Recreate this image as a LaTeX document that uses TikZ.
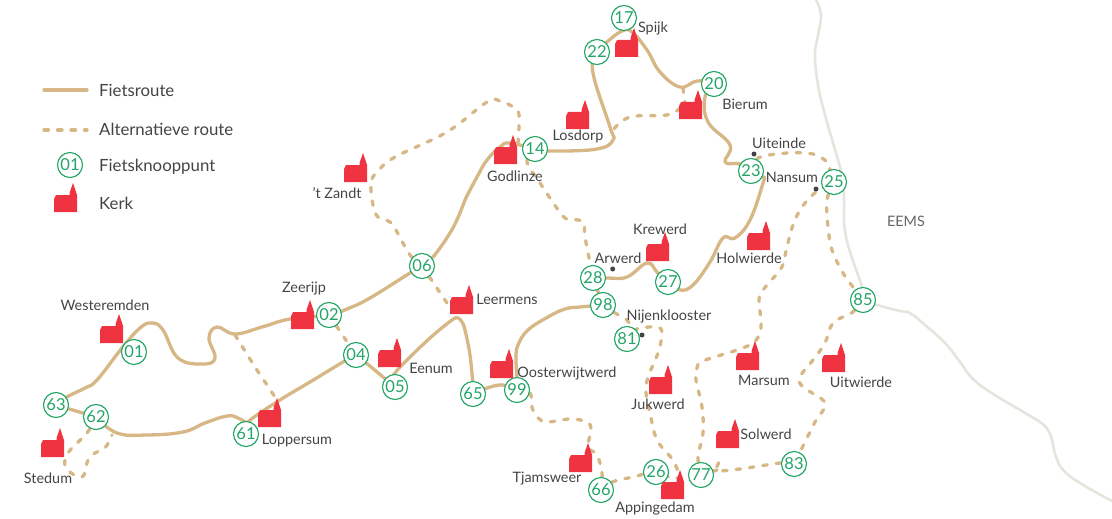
\documentclass[tikz,border=0pt]{standalone}
\usepackage{fontspec}
\setmainfont{Lato}
\pgfdeclarelayer{bg}
\pgfsetlayers{bg,main}
\definecolor{route}{HTML}{D6B785}
\definecolor{knoop}{HTML}{23A566}
\definecolor{kerkrood}{HTML}{EF3340}
\definecolor{tekst}{HTML}{444444}
\definecolor{rivier}{HTML}{E5E5DD}
\tikzset{
  x=1pt,y=-1pt,
  fiets/.style={draw=route,line width=3.3pt,line cap=round,line join=round},
  alt/.style={draw=route,line width=3.3pt,line cap=round,line join=round,dash pattern=on 4.5pt off 9pt},
  water/.style={draw=rivier,line width=2.6pt,line cap=round},
  kp/.style={circle,draw=knoop,fill=white,line width=1.15pt,minimum size=25pt,inner sep=0pt,text=knoop,font=\fontsize{16.5}{17}\selectfont},
  lbl/.style={text=tekst,font=\fontsize{14.4}{16}\selectfont,inner sep=0pt},
  leg/.style={text=tekst,font=\fontsize{16.8}{18}\selectfont,inner sep=0pt,anchor=west},
  punt/.style={circle,fill=tekst,minimum size=5pt,inner sep=0pt},
  kerk/.pic={\fill[kerkrood] (0,0) -- (0,-13) -- (2,-17) -- (15.5,-17) -- (15.5,-19) -- (19,-29) -- (23,-17) -- (23,0) -- cycle;},
}
\begin{document}
\begin{tikzpicture}
\useasboundingbox (0,0) rectangle (1112,519);
% knooppunten
\foreach \n/\x/\y in {01/134/352,63/56/405,62/96/417,61/246/434,02/329/315,04/356/355,05/395/387,06/422/266,14/535/149,65/473/394,99/517/390,98/603/305,28/593/278,27/668/282,81/627/339,66/601/490,26/656/472,77/701/475,83/794/464,85/863/300,25/834/182,23/751/171,20/714/84,17/624/18,22/597/52}
  \node[kp] (n\n) at (\x,\y) {\n};
\node[kp] (legk) at (70,165) {01};
% plaatsnamen-punten
\node[punt] (pa) at (612.7,269) {};
\node[punt] (pn) at (642,335) {};
\node[punt] (pu) at (754,154) {};
\node[punt] (pm) at (816,189) {};
% legenda
\coordinate (la) at (44,90); \coordinate (lb) at (87,90);
\coordinate (lc) at (44,130); \coordinate (ld) at (87,130);
\begin{pgfonlayer}{bg}
\draw[water] plot[smooth,tension=0.7] coordinates {(816,0) (821,15) (818,35) (815,55) (818,85) (825,115) (838,160) (843,180) (844,197) (846,237) (862,287) (n85) (877,305) (900,311) (910,313) (925,325) (945,343) (960,362) (972,378) (990,392) (1020,410) (1040,422) (1048,430) (1052,440) (1056,457) (1065,472) (1085,486) (1112,501)};
\draw[fiets] (la) -- (lb);
\draw[alt] (lc) -- (ld);
% vaste routes
\draw[fiets] plot[smooth,tension=0.7] coordinates {(n63) (66.7,397) (85,388) (97,380) (122,348) (140,328) (152,323) (163,330) (178,358) (203,364) (215,358) (209,338) (217,327) (235,334) (262,327) (290,319) (n02) (347,309) (370,298) (410,273) (n06) (433,257) (450,233) (460,213) (465,200) (477,177) (487,160) (500,147) (510,143) (n14) (553,151) (597,149) (613,140) (610,127) (593,73) (n22) (607,42) (622,31) (632,32) (647,50) (660,72) (680,87) (697,81) (n20) (705,97) (708,122) (730,145) (725,162) (740,164) (n23) (763,177) (763,183) (750,220) (735,238) (723,238) (710,262) (693,285) (680,290) (n27) (657,272) (647,263) (627,277) (607,278) (n28)};
\draw[fiets] (n28) -- (n98);
\draw[fiets] plot[smooth,tension=0.7] coordinates {(n98) (580,307) (565,309) (548,317) (528,330) (518,345) (516,358) (517,378) (n99) (503,385) (487,388) (n65)};
\draw[fiets] plot[smooth,tension=0.6] coordinates {(473,385) (470,355) (465,330) (462,322) (458,318) (452,320) (430,338) (402,365) (392,377)};
\draw[fiets] plot[smooth,tension=0.7] coordinates {(n05) (383,377) (365,362) (n04)};
\draw[fiets] plot[smooth,tension=0.6] coordinates {(n04) (343,362) (310,382) (280,400) (248,422) (n61)};
\draw[fiets] plot[smooth,tension=0.7] coordinates {(248,424) (238,418) (227,416) (205,423) (183,432) (147,435) (117,433) (n62)};
\draw[fiets] (n62) -- (n63);
% alternatieve routes
\draw[alt] plot[smooth,tension=0.6] coordinates {(n62) (87,433) (68,453) (66,468) (82,477) (88,460) (95,453) (105,448) (112,435)};
\draw[alt] plot[smooth,tension=0.3] coordinates {(235,335) (255,367) (277,400)};
\draw[alt] (n02) -- (n04);
\draw[alt] plot[smooth,tension=0.6] coordinates {(n06) (410,255) (397,232) (390,222) (378,217) (373,205) (371,183) (377,172) (395,157) (447,132) (487,102) (500,101) (517,110) (519,123) (518,143)};
\draw[alt] (n06) -- (447,303);
\draw[alt] plot[smooth,tension=0.6] coordinates {(n14) (527,162) (540,183) (562,215) (570,219) (583,222) (585,237) (590,263) (n28)};
\draw[alt] plot[smooth,tension=0.6] coordinates {(n98) (615,313) (627,320) (633,330) (640,328) (657,327) (662,333) (658,353) (648,377) (646,393) (650,413) (657,440) (673,460) (678,472)};
\draw[alt] plot[smooth,tension=0.6] coordinates {(n99) (530,393) (532,407) (537,417) (547,422) (570,419) (587,422) (591,430) (588,447) (597,455) (602,473) (n66)};
\draw[alt] plot[smooth,tension=0.6] coordinates {(n66) (612,482) (633,477) (n26) (673,478) (n77)};
\draw[alt] plot[smooth,tension=0.6] coordinates {(n77) (698,457) (703,433) (702,407) (696,380) (697,368) (703,361) (737,350) (753,343) (760,333) (761,320) (759,300) (763,290) (780,270) (784,260) (787,247) (793,225) (802,207) (816,192) (n25)};
\draw[alt] plot[smooth,tension=0.6] coordinates {(n25) (827,200) (828,227) (832,250) (843,273) (853,287) (n85)};
\draw[alt] plot[smooth,tension=0.6] coordinates {(n85) (853,312) (833,323) (825,343) (813,360) (800,377) (803,387) (825,403) (815,422) (800,452) (n83)};
\draw[alt] plot[smooth,tension=0.5] coordinates {(n83) (780,463) (740,469) (717,470) (723,455)};
\draw[alt] (n77) -- (717,470);
\draw[alt] plot[smooth,tension=0.6] coordinates {(n23) (758,158) (787,153) (813,154) (827,162) (830,170) (n25)};
\draw[alt] (683,88) -- (685,103);
\draw[alt] plot[smooth,tension=0.6] coordinates {(680,108) (667,115) (630,117) (613,130)};
\end{pgfonlayer}
% kerken
\foreach \x/\y in {54/212,344/182,100/343,41/457,291/329,258/427,494/164,566/129,646/261,450/314,378/367,490/378,569/472,661/499,649/394,615/57,679/119,747/250,736/370,822/372,716/448}
  \pic at (\x,\y) {kerk};
% legenda tekst
\node[leg] (t1) at (99,90.5) {Fietsroute};
\node[leg] (t2) at (99,129.5) {Alternatieve route};
\node[leg] (t3) at (99,166.5) {Fietsknooppunt};
\node[leg] (t4) at (99,203.5) {Kerk};
% namen
\node[lbl] (a1) at (337,193.5) {'t Zandt};
\node[lbl] (a2) at (105,305.5) {Westeremden};
\node[lbl] (a3) at (304,288.5) {Zeerijp};
\node[lbl] (a4) at (48,478.5) {Stedum};
\node[lbl] (a5) at (297,440.5) {Loppersum};
\node[lbl] (a6) at (515,176.5) {Godlinze};
\node[lbl] (a7) at (578,136.5) {Losdorp};
\node[lbl] (a8) at (660,229.5) {Krewerd};
\node[lbl] (a9) at (618,258.5) {Arwerd};
\node[lbl] (a10) at (507,299.5) {Leermens};
\node[lbl] (a11) at (431,368.5) {Eenum};
\node[lbl] (a12) at (567,373.5) {Oosterwijtwerd};
\node[lbl] (a13) at (669,316.5) {Nijenklooster};
\node[lbl] (a14) at (658,404.5) {Jukwerd};
\node[lbl] (a15) at (547,478.5) {Tjamsweer};
\node[lbl] (a16) at (655,508.5) {Appingedam};
\node[lbl] (a17) at (764,380.5) {Marsum};
\node[lbl] (a18) at (861,382.5) {Uitwierde};
\node[lbl] (a19) at (766,434.5) {Solwerd};
\node[lbl] (a20) at (653,28.5) {Spijk};
\node[lbl] (a21) at (745,104.5) {Bierum};
\node[lbl] (a22) at (779,143.5) {Uiteinde};
\node[lbl] (a23) at (792,177.5) {Nansum};
\node[lbl] (a24) at (749,258.5) {Holwierde};
\node[lbl,text=black!60] (a25) at (906,221.5) {EEMS};
\end{tikzpicture}
\end{document}
